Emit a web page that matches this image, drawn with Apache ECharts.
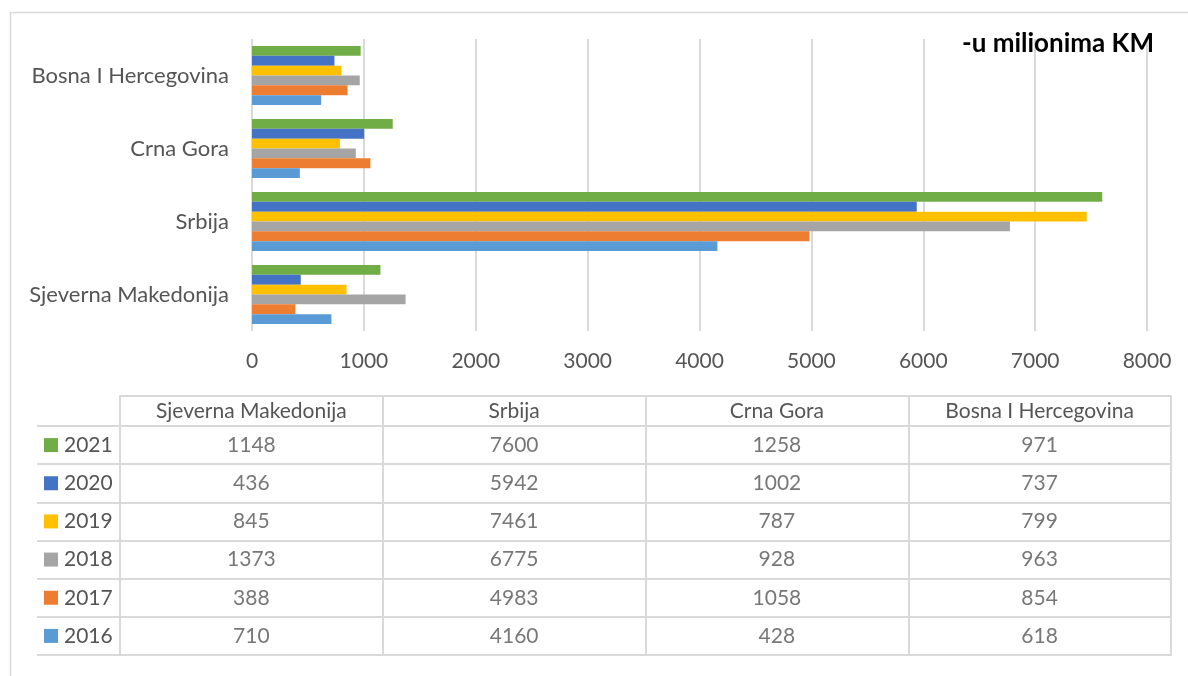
<!DOCTYPE html>
<html>
<head>
<meta charset="utf-8">
<script src="https://cdn.jsdelivr.net/npm/echarts@6/dist/echarts.min.js"></script>
<style>
  html, body { margin: 0; padding: 0; background: #fff; }
  #chart { width: 1188px; height: 676px; }
</style>
</head>
<body>
<div id="chart"></div>
<script>
// Categories and yearly values (millions KM)
const countries = ['Sjeverna Makedonija', 'Srbija', 'Crna Gora', 'Bosna I Hercegovina'];
const years = ['2016', '2017', '2018', '2019', '2020', '2021'];
const v2016 = [710, 4160, 428, 618];
const v2017 = [388, 4983, 1058, 854];
const v2018 = [1373, 6775, 928, 963];
const v2019 = [845, 7461, 787, 799];
const v2020 = [436, 5942, 1002, 737];
const v2021 = [1148, 7600, 1258, 971];
const xTicks = [0, 1000, 2000, 3000, 4000, 5000, 6000, 7000, 8000];
const titleText = '-u milionima KM';

const yearValues = [v2016, v2017, v2018, v2019, v2020, v2021];
const colors = ['#5B9BD5', '#ED7D31', '#A5A5A5', '#FFC000', '#4472C4', '#70AD47'];
const FONT = 'Lato';
const TXT = '#555555';
const LINE = '#d9d9d9';

const chart = echarts.init(document.getElementById('chart'), null, { renderer: 'canvas' });

// Bar series: newest year first so it sits at the top of each group
const barSeries = years.map((y, i) => ({
  name: y,
  type: 'bar',
  xAxisIndex: 0,
  yAxisIndex: 0,
  data: yearValues[i],
  barGap: '0%',
  barCategoryGap: '19%',
  itemStyle: { color: colors[i] }
})).reverse();

// Table cell values as labels placed on the table grid
const cellData = [];
yearValues.forEach((vals, yi) => {
  vals.forEach((v, ci) => cellData.push([ci, yi, v]));
});

const rich = { t: { fontFamily: FONT, fontSize: 21, color: TXT, padding: [0, 0, 0, 6] } };
colors.forEach((c, i) => { rich['s' + i] = { width: 14, height: 14, backgroundColor: c }; });

chart.setOption({
  animation: false,
  backgroundColor: '#fff',
  textStyle: { fontFamily: FONT },
  title: {
    text: titleText,
    right: 29,
    top: 26,
    textStyle: { fontFamily: FONT, fontSize: 26, fontWeight: 'bold', color: '#000' }
  },
  graphic: [{
    type: 'rect',
    left: 8, top: 10,
    shape: { width: 1300, height: 800 },
    style: { fill: 'none', stroke: LINE, lineWidth: 1.5 },
    silent: true
  }],
  grid: [
    { left: 252, right: 41, top: 39, height: 292 },
    { left: 120, right: 17, top: 426, bottom: 21, show: true, borderColor: LINE, borderWidth: 2 }
  ],
  xAxis: [
    {
      gridIndex: 0, type: 'value', min: xTicks[0], max: xTicks[xTicks.length - 1], interval: 1000,
      axisLine: { show: false }, axisTick: { show: false },
      axisLabel: { fontFamily: FONT, fontSize: 21, color: TXT, margin: 20, formatter: v => String(v) },
      splitLine: { show: true, lineStyle: { color: LINE, width: 2 } }
    },
    {
      gridIndex: 1, type: 'category', position: 'top', data: countries,
      axisLine: { show: true, lineStyle: { color: LINE, width: 2 } },
      axisTick: { show: true, length: 30, alignWithLabel: false, lineStyle: { color: LINE, width: 2 } },
      axisLabel: { fontFamily: FONT, fontSize: 21, color: TXT, margin: 4 },
      splitLine: { show: true, lineStyle: { color: LINE, width: 2 } }
    },
    {
      gridIndex: 1, type: 'category', position: 'top', offset: 30, data: countries,
      axisLine: { show: true, lineStyle: { color: LINE, width: 2 } },
      axisTick: { show: false }, axisLabel: { show: false }, splitLine: { show: false }
    }
  ],
  yAxis: [
    {
      gridIndex: 0, type: 'category', data: countries,
      axisLine: { show: false }, axisTick: { show: false },
      axisLabel: { fontFamily: FONT, fontSize: 22, color: TXT, margin: 23 }
    },
    {
      gridIndex: 1, type: 'category', data: years,
      axisLine: { show: true, lineStyle: { color: LINE, width: 2 } },
      axisTick: { show: true, length: 83, alignWithLabel: false, lineStyle: { color: LINE, width: 2 } },
      axisLabel: {
        align: 'left', margin: 76,
        formatter: (v, i) => '{s' + i + '|}{t|' + v + '}',
        rich: rich
      },
      splitLine: { show: true, lineStyle: { color: LINE, width: 2 } }
    },
    {
      gridIndex: 1, type: 'category', offset: 83, data: years,
      axisLine: { show: true, lineStyle: { color: LINE, width: 2 } },
      axisTick: { show: false }, axisLabel: { show: false }, splitLine: { show: false }
    }
  ],
  series: barSeries.concat([{
    type: 'scatter',
    xAxisIndex: 1,
    yAxisIndex: 1,
    data: cellData,
    symbolSize: 1,
    itemStyle: { color: 'rgba(0,0,0,0)' },
    label: {
      show: true, position: 'inside',
      formatter: p => String(p.value[2]),
      fontFamily: FONT, fontSize: 21, color: TXT
    },
    silent: true
  }])
});
</script>
</body>
</html>
